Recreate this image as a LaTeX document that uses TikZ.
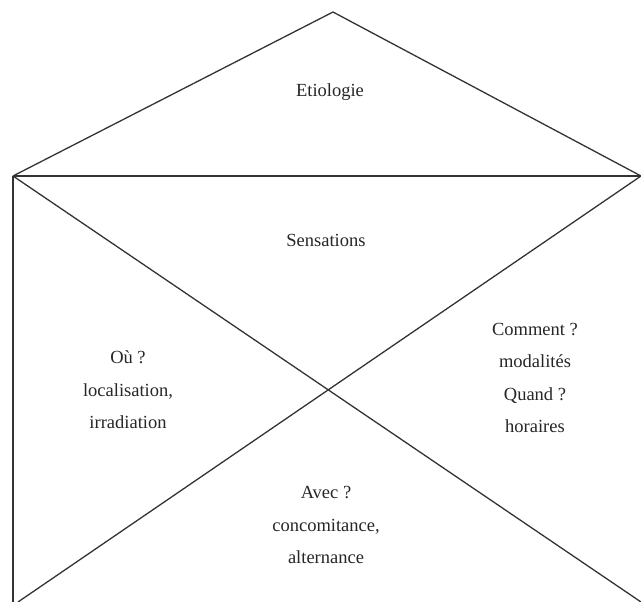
\documentclass[tikz,border=0pt]{standalone}
\usepackage{fontspec}
\setmainfont{Liberation Serif}
\begin{document}
\begin{tikzpicture}[x=1pt,y=-1pt,
  edge/.style={draw=black!80,line width=1.3pt},
  lbl/.style={align=center,font=\fontsize{18.5}{32.5}\selectfont,text=black!85,inner sep=0pt}]
\useasboundingbox (0,0) rectangle (641,602);
\coordinate (apex) at (333,12);
\coordinate (L) at (13,176);
\coordinate (R) at (641,176);
\coordinate (BL) at (13,602);
\coordinate (BR) at (641,602);
\coordinate (BX) at (18,602);
\draw[edge] (L) -- (apex) -- (R);
\draw[edge] (L) -- (R);
\draw[edge] (L) -- (BL);
\draw[edge] (L) -- (BR);
\draw[edge] (R) -- (BX);
\node[lbl] (etio) at (330,92) {Etiologie};
\node[lbl] (sens) at (326,240) {Sensations};
\node[lbl] (ou) at (128,390) {Où ?\\localisation,\\irradiation};
\node[lbl] (comm) at (535,378) {Comment ?\\modalités\\Quand ?\\horaires};
\node[lbl] (avec) at (326,525) {Avec ?\\concomitance,\\alternance};
\end{tikzpicture}
\end{document}
